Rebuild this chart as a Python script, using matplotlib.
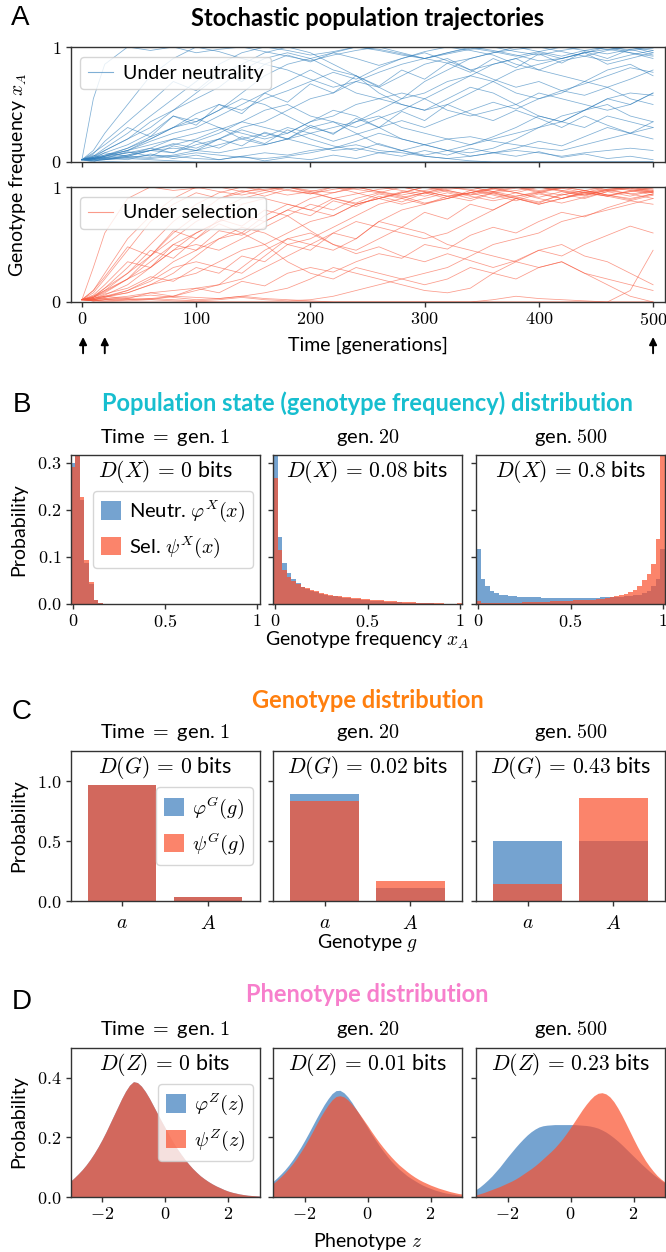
import matplotlib
matplotlib.use('Agg')
import matplotlib.pyplot as plt
from matplotlib.patches import Patch
from matplotlib.lines import Line2D

plt.rcParams['font.family'] = ['Lato', 'DejaVu Sans']
plt.rcParams['mathtext.fontset'] = 'cm'

# ---------------- data ----------------
# panel A: time points and trajectories of x_A
T = [0, 10, 20, 40, 60, 80, 100, 120, 140, 160, 180, 200, 220, 240, 260,
     280, 300, 320, 340, 360, 380, 400, 420, 440, 460, 480, 500]

neutral_runs = [
    [0.02, 0.55, 0.85, 1, 0.97, 1, 0.95, 0.98, 1, 0.96, 0.92, 0.88, 0.93, 0.97, 1, 0.95, 0.9, 0.94, 0.98, 1, 0.96, 0.93, 0.97, 1, 0.98, 0.95, 0.92],
    [0.02, 0.1, 0.25, 0.5, 0.75, 0.9, 1, 0.96, 0.9, 0.85, 0.8, 0.72, 0.65, 0.7, 0.78, 0.85, 0.9, 0.95, 1, 0.97, 0.93, 0.88, 0.9, 0.95, 0.98, 1, 0.97],
    [0.02, 0.05, 0.1, 0.2, 0.35, 0.45, 0.6, 0.75, 0.85, 0.95, 1, 0.95, 0.85, 0.75, 0.6, 0.5, 0.45, 0.55, 0.65, 0.6, 0.5, 0.4, 0.35, 0.45, 0.55, 0.6, 0.58],
    [0.02, 0.04, 0.08, 0.15, 0.25, 0.4, 0.35, 0.45, 0.55, 0.5, 0.4, 0.3, 0.25, 0.35, 0.45, 0.55, 0.7, 0.8, 0.9, 0.95, 1, 0.96, 0.92, 0.97, 1, 0.95, 0.9],
    [0.02, 0.03, 0.05, 0.12, 0.2, 0.3, 0.38, 0.3, 0.2, 0.15, 0.2, 0.3, 0.35, 0.25, 0.15, 0.1, 0.05, 0.03, 0.01, 0, 0, 0, 0, 0, 0, 0, 0],
    [0.02, 0.01, 0.02, 0.05, 0.1, 0.08, 0.15, 0.2, 0.3, 0.35, 0.45, 0.55, 0.6, 0.7, 0.65, 0.75, 0.85, 0.9, 0.8, 0.85, 0.9, 0.95, 0.9, 0.95, 0.85, 0.9, 0.95],
    [0.02, 0.03, 0.06, 0.1, 0.18, 0.25, 0.3, 0.4, 0.5, 0.6, 0.7, 0.8, 0.7, 0.6, 0.55, 0.5, 0.45, 0.5, 0.6, 0.7, 0.8, 0.85, 0.9, 0.95, 1, 0.97, 0.99],
    [0.02, 0.02, 0.04, 0.08, 0.12, 0.2, 0.25, 0.3, 0.25, 0.2, 0.25, 0.35, 0.4, 0.5, 0.55, 0.6, 0.55, 0.45, 0.4, 0.45, 0.5, 0.6, 0.55, 0.5, 0.45, 0.5, 0.6],
    [0.02, 0.01, 0.005, 0, 0, 0, 0, 0, 0, 0, 0, 0, 0, 0, 0, 0, 0, 0, 0, 0, 0, 0, 0, 0, 0, 0, 0],
    [0.02, 0.03, 0.05, 0.08, 0.1, 0.12, 0.1, 0.08, 0.12, 0.15, 0.2, 0.25, 0.3, 0.35, 0.4, 0.3, 0.25, 0.2, 0.15, 0.2, 0.25, 0.3, 0.35, 0.3, 0.4, 0.35, 0.3],
    [0.02, 0.02, 0.03, 0.05, 0.04, 0.06, 0.1, 0.15, 0.2, 0.25, 0.2, 0.15, 0.1, 0.12, 0.08, 0.1, 0.15, 0.2, 0.22, 0.18, 0.15, 0.12, 0.1, 0.15, 0.2, 0.25, 0.2],
    [0.02, 0.04, 0.1, 0.2, 0.3, 0.45, 0.55, 0.65, 0.8, 0.9, 0.95, 0.9, 0.8, 0.75, 0.65, 0.55, 0.6, 0.7, 0.75, 0.85, 0.9, 0.8, 0.75, 0.7, 0.8, 0.85, 0.75],
    [0.02, 0.02, 0.03, 0.04, 0.06, 0.05, 0.03, 0.02, 0.05, 0.08, 0.06, 0.1, 0.12, 0.15, 0.1, 0.08, 0.05, 0.03, 0.05, 0.08, 0.1, 0.08, 0.05, 0.08, 0.1, 0.12, 0.1],
    [0.02, 0.05, 0.12, 0.25, 0.4, 0.55, 0.7, 0.85, 0.95, 1, 0.97, 0.93, 0.96, 1, 0.98, 0.94, 0.9, 0.95, 0.99, 0.96, 0.92, 0.96, 1, 0.97, 0.94, 0.98, 1],
    [0.02, 0.03, 0.05, 0.1, 0.15, 0.2, 0.18, 0.25, 0.35, 0.45, 0.5, 0.4, 0.35, 0.3, 0.38, 0.45, 0.55, 0.65, 0.75, 0.7, 0.6, 0.55, 0.6, 0.7, 0.65, 0.55, 0.5],
    [0.02, 0.01, 0.02, 0.03, 0.02, 0.01, 0, 0, 0, 0, 0, 0, 0, 0, 0, 0, 0, 0, 0, 0, 0, 0, 0, 0, 0, 0, 0],
    [0.02, 0.03, 0.04, 0.06, 0.1, 0.15, 0.2, 0.28, 0.35, 0.3, 0.25, 0.35, 0.45, 0.4, 0.3, 0.2, 0.15, 0.1, 0.08, 0.12, 0.2, 0.3, 0.4, 0.45, 0.5, 0.4, 0.35],
    [0.02, 0.02, 0.05, 0.1, 0.2, 0.3, 0.35, 0.45, 0.6, 0.75, 0.85, 0.9, 0.95, 1, 0.97, 0.93, 0.9, 0.86, 0.9, 0.95, 0.98, 1, 0.96, 0.92, 0.88, 0.93, 0.97],
    [0.02, 0.03, 0.02, 0.04, 0.03, 0.05, 0.08, 0.06, 0.04, 0.03, 0.05, 0.08, 0.12, 0.18, 0.25, 0.2, 0.15, 0.1, 0.15, 0.22, 0.3, 0.4, 0.35, 0.45, 0.55, 0.5, 0.6],
    [0.02, 0.04, 0.06, 0.12, 0.22, 0.3, 0.42, 0.5, 0.45, 0.55, 0.62, 0.7, 0.78, 0.72, 0.82, 0.9, 0.96, 1, 0.97, 0.93, 0.85, 0.8, 0.88, 0.92, 0.97, 1, 0.95],
    [0.02, 0.06, 0.03, 0.09, 0.05, 0.14, 0.1, 0.2, 0.14, 0.26, 0.2, 0.32, 0.24, 0.38, 0.3, 0.44, 0.36, 0.5, 0.42, 0.36, 0.45, 0.38, 0.3, 0.4, 0.32, 0.25, 0.3],
    [0.02, 0.0, 0.04, 0.02, 0.07, 0.03, 0.06, 0.02, 0.05, 0.01, 0.04, 0.02, 0.06, 0.03, 0.08, 0.05, 0.1, 0.06, 0.12, 0.08, 0.05, 0.09, 0.04, 0.07, 0.03, 0.05, 0.02],
    [0.02, 0.08, 0.15, 0.3, 0.22, 0.4, 0.32, 0.5, 0.42, 0.6, 0.52, 0.68, 0.6, 0.75, 0.66, 0.8, 0.72, 0.86, 0.78, 0.9, 0.82, 0.94, 0.86, 0.96, 0.9, 0.98, 0.93],
    [0.02, 0.04, 0.02, 0.06, 0.12, 0.08, 0.18, 0.12, 0.22, 0.16, 0.28, 0.2, 0.14, 0.1, 0.16, 0.1, 0.06, 0.1, 0.05, 0.08, 0.12, 0.18, 0.14, 0.22, 0.3, 0.25, 0.35],
    [0.02, 0.07, 0.18, 0.35, 0.52, 0.7, 0.62, 0.78, 0.7, 0.85, 0.93, 0.87, 0.95, 0.9, 0.84, 0.9, 0.95, 0.88, 0.8, 0.72, 0.65, 0.7, 0.62, 0.68, 0.75, 0.82, 0.78],
    [0.02, 0.03, 0.08, 0.05, 0.1, 0.16, 0.12, 0.2, 0.28, 0.22, 0.3, 0.25, 0.18, 0.24, 0.3, 0.36, 0.3, 0.38, 0.45, 0.52, 0.46, 0.55, 0.62, 0.58, 0.65, 0.72, 0.8],
]

selection_runs = [
    [0.02, 0.3, 0.6, 0.9, 1, 0.97, 0.99, 1, 0.96, 0.98, 1, 0.97, 0.95, 0.99, 1, 0.97, 0.94, 0.98, 1, 0.96, 0.99, 1, 0.97, 0.95, 0.98, 1, 0.97],
    [0.02, 0.1, 0.25, 0.55, 0.75, 0.9, 1, 0.96, 0.93, 0.97, 1, 0.95, 0.9, 0.94, 0.98, 1, 0.96, 0.92, 0.95, 0.99, 1, 0.96, 0.93, 0.97, 1, 0.98, 0.95],
    [0.02, 0.05, 0.1, 0.25, 0.4, 0.55, 0.7, 0.8, 0.9, 0.95, 1, 0.96, 0.9, 0.85, 0.9, 0.95, 1, 0.97, 0.93, 0.96, 1, 0.97, 0.99, 0.95, 0.92, 0.96, 1],
    [0.02, 0.04, 0.08, 0.2, 0.35, 0.5, 0.6, 0.7, 0.75, 0.7, 0.8, 0.9, 0.95, 1, 0.96, 0.92, 0.86, 0.9, 0.95, 0.98, 1, 0.95, 0.9, 0.94, 0.98, 1, 0.96],
    [0.02, 0.02, 0.04, 0.1, 0.2, 0.35, 0.45, 0.55, 0.65, 0.6, 0.5, 0.55, 0.65, 0.75, 0.85, 0.9, 0.95, 1, 0.97, 0.94, 0.9, 0.85, 0.9, 0.95, 0.92, 0.88, 0.93],
    [0.02, 0.01, 0.02, 0.03, 0.02, 0.05, 0.1, 0.15, 0.3, 0.45, 0.55, 0.5, 0.45, 0.55, 0.7, 0.8, 0.85, 0.9, 0.95, 0.9, 0.95, 1, 0.97, 0.93, 0.97, 1, 0.98],
    [0.02, 0.03, 0.05, 0.08, 0.15, 0.25, 0.4, 0.55, 0.6, 0.5, 0.35, 0.25, 0.2, 0.3, 0.25, 0.2, 0.15, 0.2, 0.3, 0.25, 0.2, 0.3, 0.35, 0.25, 0.2, 0.15, 0.1],
    [0.02, 0.02, 0.03, 0.02, 0.03, 0.05, 0.04, 0.03, 0.05, 0.08, 0.12, 0.2, 0.3, 0.25, 0.2, 0.15, 0.1, 0.08, 0.12, 0.25, 0.35, 0.45, 0.5, 0.4, 0.35, 0.25, 0.15],
    [0.02, 0.01, 0.005, 0, 0, 0, 0, 0, 0, 0, 0, 0, 0, 0, 0, 0, 0, 0, 0, 0, 0, 0, 0, 0, 0, 0, 0],
    [0.02, 0.01, 0.02, 0.01, 0.02, 0.01, 0.005, 0, 0, 0, 0, 0, 0, 0, 0, 0, 0, 0, 0, 0, 0, 0, 0, 0, 0, 0, 0],
    [0.02, 0.05, 0.12, 0.3, 0.5, 0.7, 0.85, 0.95, 1, 0.97, 0.93, 0.96, 1, 0.98, 0.95, 0.91, 0.95, 0.99, 1, 0.96, 0.92, 0.95, 0.99, 1, 0.97, 0.94, 0.96],
    [0.02, 0.04, 0.1, 0.2, 0.3, 0.45, 0.6, 0.7, 0.85, 0.9, 0.85, 0.8, 0.75, 0.85, 0.9, 0.95, 1, 0.96, 0.92, 0.88, 0.92, 0.96, 1, 0.97, 0.93, 0.9, 0.94],
    [0.02, 0.02, 0.03, 0.05, 0.08, 0.1, 0.12, 0.15, 0.2, 0.3, 0.4, 0.5, 0.6, 0.7, 0.65, 0.6, 0.55, 0.6, 0.7, 0.8, 0.9, 0.85, 0.9, 0.95, 1, 0.97, 0.95],
    [0.02, 0.03, 0.06, 0.15, 0.3, 0.45, 0.5, 0.45, 0.55, 0.65, 0.75, 0.85, 0.8, 0.9, 0.95, 1, 0.96, 0.92, 0.95, 0.99, 0.95, 0.9, 0.86, 0.91, 0.96, 0.99, 0.95],
    [0.02, 0.01, 0.01, 0.02, 0.03, 0.02, 0.01, 0.02, 0.04, 0.02, 0.01, 0.02, 0.05, 0.1, 0.15, 0.2, 0.25, 0.3, 0.4, 0.5, 0.55, 0.6, 0.7, 0.75, 0.8, 0.85, 0.9],
    [0.02, 0.02, 0.04, 0.08, 0.15, 0.2, 0.25, 0.35, 0.45, 0.5, 0.6, 0.7, 0.75, 0.85, 0.9, 0.85, 0.9, 0.95, 0.9, 0.95, 0.9, 0.95, 1, 0.97, 0.93, 0.96, 0.99],
    [0.02, 0.03, 0.05, 0.1, 0.18, 0.3, 0.35, 0.3, 0.25, 0.4, 0.55, 0.6, 0.5, 0.45, 0.55, 0.65, 0.6, 0.5, 0.45, 0.4, 0.35, 0.3, 0.35, 0.25, 0.15, 0.05, 0],
    [0.02, 0.04, 0.09, 0.2, 0.4, 0.6, 0.75, 0.9, 0.95, 1, 0.97, 0.94, 0.98, 1, 0.96, 0.93, 0.97, 1, 0.98, 0.95, 0.97, 1, 0.96, 0.93, 0.97, 0.99, 0.96],
    [0.02, 0.01, 0.02, 0.04, 0.06, 0.04, 0.02, 0.03, 0.05, 0.03, 0.02, 0.01, 0, 0, 0, 0, 0, 0, 0, 0.02, 0.05, 0.03, 0.02, 0.01, 0, 0.1, 0.45],
    [0.02, 0.08, 0.2, 0.45, 0.7, 0.85, 0.95, 0.9, 0.97, 0.92, 0.98, 0.94, 1, 0.95, 0.9, 0.96, 0.92, 0.97, 0.93, 0.99, 0.95, 0.91, 0.96, 0.92, 0.98, 0.94, 0.9],
    [0.02, 0.03, 0.07, 0.12, 0.22, 0.18, 0.3, 0.25, 0.4, 0.35, 0.5, 0.45, 0.6, 0.55, 0.7, 0.65, 0.78, 0.72, 0.85, 0.8, 0.9, 0.86, 0.94, 0.9, 0.96, 0.92, 0.97],
    [0.02, 0.06, 0.15, 0.35, 0.3, 0.5, 0.45, 0.62, 0.58, 0.7, 0.8, 0.75, 0.88, 0.83, 0.92, 0.87, 0.95, 0.9, 0.97, 0.93, 0.88, 0.94, 0.9, 0.96, 0.92, 0.97, 0.93],
    [0.02, 0.02, 0.05, 0.03, 0.08, 0.05, 0.12, 0.08, 0.18, 0.14, 0.25, 0.3, 0.26, 0.35, 0.42, 0.38, 0.5, 0.46, 0.58, 0.65, 0.6, 0.7, 0.78, 0.74, 0.82, 0.88, 0.85],
    [0.02, 0.1, 0.22, 0.48, 0.4, 0.62, 0.55, 0.72, 0.66, 0.8, 0.75, 0.62, 0.5, 0.42, 0.48, 0.4, 0.35, 0.42, 0.36, 0.3, 0.36, 0.45, 0.4, 0.5, 0.58, 0.66, 0.6],
    [0.02, 0.04, 0.12, 0.25, 0.45, 0.38, 0.55, 0.68, 0.6, 0.75, 0.85, 0.8, 0.9, 0.86, 0.94, 0.9, 0.85, 0.92, 0.88, 0.95, 0.91, 0.87, 0.93, 0.97, 0.93, 0.89, 0.94],
]
arrow_times = [1, 20, 500]

# panel B: histogram of x_A, 41 bins centred on k/40
bin_centres = [k / 40 for k in range(41)]
bin_width = 0.025
neutral_hist = [
    [0.298, 0.34, 0.22, 0.088, 0.043, 0.008, 0.003, 0.001, 0.0005, 0, 0, 0, 0, 0, 0, 0, 0, 0, 0, 0, 0,
     0, 0, 0, 0, 0, 0, 0, 0, 0, 0, 0, 0, 0, 0, 0, 0, 0, 0, 0, 0],
    [0.34, 0.142, 0.087, 0.065, 0.053, 0.044, 0.037, 0.032, 0.028, 0.025, 0.022, 0.02, 0.018, 0.016,
     0.0145, 0.013, 0.012, 0.011, 0.01, 0.009, 0.008, 0.0072, 0.0065, 0.0058, 0.0052, 0.0046, 0.004,
     0.0035, 0.003, 0.0026, 0.0022, 0.0019, 0.0016, 0.0013, 0.0011, 0.0009, 0.0007, 0.0005, 0.0004,
     0.0003, 0.0008],
    [0.116, 0.054, 0.038, 0.027, 0.023, 0.02, 0.0185, 0.017, 0.016, 0.0155, 0.015, 0.0145, 0.014,
     0.0138, 0.0135, 0.0132, 0.013, 0.0128, 0.0126, 0.0125, 0.0125, 0.0125, 0.0126, 0.0128, 0.013,
     0.0132, 0.0135, 0.0138, 0.014, 0.0145, 0.015, 0.0155, 0.016, 0.017, 0.0185, 0.02, 0.023, 0.027,
     0.038, 0.054, 0.116],
]
selection_hist = [
    [0.29, 0.34, 0.227, 0.093, 0.046, 0.008, 0.003, 0.001, 0.0005, 0, 0, 0, 0, 0, 0, 0, 0, 0, 0, 0, 0,
     0, 0, 0, 0, 0, 0, 0, 0, 0, 0, 0, 0, 0, 0, 0, 0, 0, 0, 0, 0],
    [0.267, 0.115, 0.073, 0.058, 0.049, 0.043, 0.037, 0.033, 0.03, 0.027, 0.024, 0.022, 0.02, 0.018,
     0.0165, 0.015, 0.014, 0.013, 0.012, 0.011, 0.01, 0.0092, 0.0084, 0.0076, 0.0069, 0.0062, 0.0055,
     0.0049, 0.0043, 0.0038, 0.0033, 0.0029, 0.0025, 0.0021, 0.0018, 0.0015, 0.0012, 0.001, 0.0008,
     0.0006, 0.0015],
    [0.006, 0.003, 0.002, 0.002, 0.002, 0.0022, 0.0024, 0.0026, 0.0028, 0.003, 0.0033, 0.0036, 0.004,
     0.0043, 0.0046, 0.005, 0.0054, 0.0058, 0.0062, 0.0066, 0.007, 0.0075, 0.008, 0.0085, 0.009,
     0.0095, 0.01, 0.011, 0.013, 0.014, 0.016, 0.0186, 0.021, 0.025, 0.03, 0.039, 0.05, 0.063, 0.084,
     0.137, 0.36],
]

# panel C: genotype probabilities (a, A)
genotypes = ['$a$', '$A$']
neutral_geno = [[0.97, 0.03], [0.89, 0.11], [0.50, 0.50]]
selection_geno = [[0.97, 0.03], [0.83, 0.17], [0.14, 0.86]]

# panel D: phenotype densities on a grid -3..3 step 0.125
z = [-3 + k / 8 for k in range(49)]
neutral_pheno = [
    [0.053, 0.065, 0.078, 0.092, 0.108, 0.126, 0.146, 0.168, 0.192, 0.218, 0.246, 0.274, 0.302,
     0.330, 0.355, 0.375, 0.387, 0.384, 0.372, 0.354, 0.332, 0.307, 0.282, 0.257, 0.233,
     0.208, 0.185, 0.164, 0.145, 0.127, 0.111, 0.096, 0.083, 0.071, 0.061, 0.052, 0.044,
     0.037, 0.031, 0.025, 0.020, 0.016, 0.013, 0.010, 0.008, 0.006, 0.005, 0.004, 0.003],
    [0.052, 0.064, 0.077, 0.091, 0.107, 0.125, 0.145, 0.166, 0.189, 0.213, 0.238, 0.263, 0.287,
     0.310, 0.330, 0.347, 0.357, 0.358, 0.350, 0.336, 0.318, 0.297, 0.276, 0.255, 0.234,
     0.212, 0.192, 0.172, 0.154, 0.137, 0.121, 0.107, 0.094, 0.083, 0.072, 0.063, 0.055,
     0.047, 0.040, 0.034, 0.029, 0.024, 0.020, 0.016, 0.013, 0.011, 0.009, 0.007, 0.005],
    [0.025, 0.034, 0.045, 0.057, 0.070, 0.085, 0.100, 0.117, 0.134, 0.150, 0.166, 0.181, 0.195,
     0.208, 0.219, 0.228, 0.235, 0.239, 0.241, 0.242, 0.243, 0.243, 0.243, 0.243, 0.243,
     0.243, 0.242, 0.241, 0.240, 0.238, 0.235, 0.231, 0.225, 0.218, 0.209, 0.199, 0.188,
     0.176, 0.163, 0.150, 0.137, 0.124, 0.111, 0.099, 0.087, 0.076, 0.066, 0.056, 0.047],
]
selection_pheno = [
    [0.053, 0.065, 0.078, 0.092, 0.108, 0.126, 0.146, 0.168, 0.192, 0.218, 0.246, 0.274, 0.302,
     0.330, 0.355, 0.375, 0.387, 0.384, 0.372, 0.354, 0.332, 0.307, 0.282, 0.257, 0.233,
     0.208, 0.185, 0.164, 0.145, 0.127, 0.111, 0.096, 0.083, 0.071, 0.061, 0.052, 0.044,
     0.037, 0.031, 0.025, 0.020, 0.016, 0.013, 0.010, 0.008, 0.006, 0.005, 0.004, 0.003],
    [0.045, 0.056, 0.068, 0.081, 0.096, 0.112, 0.130, 0.150, 0.171, 0.194, 0.218, 0.243, 0.267,
     0.289, 0.309, 0.326, 0.337, 0.340, 0.336, 0.326, 0.312, 0.296, 0.278, 0.259, 0.240,
     0.220, 0.201, 0.183, 0.166, 0.150, 0.135, 0.121, 0.108, 0.097, 0.086, 0.076, 0.067,
     0.059, 0.052, 0.046, 0.040, 0.035, 0.030, 0.026, 0.022, 0.018, 0.015, 0.012, 0.010],
    [0.007, 0.011, 0.015, 0.020, 0.025, 0.030, 0.035, 0.041, 0.047, 0.053, 0.060, 0.068, 0.077,
     0.086, 0.095, 0.105, 0.116, 0.128, 0.140, 0.152, 0.165, 0.180, 0.196, 0.214, 0.233,
     0.253, 0.273, 0.293, 0.311, 0.327, 0.340, 0.348, 0.350, 0.346, 0.336, 0.320, 0.299,
     0.275, 0.249, 0.222, 0.195, 0.169, 0.145, 0.123, 0.104, 0.087, 0.072, 0.060, 0.050],
]

time_titles = ['Time $=$ gen. $1$', 'gen. $20$', 'gen. $500$']
dx_text = [r'$D(X)\,=\,0$ bits', r'$D(X)\,=\,0.08$ bits', r'$D(X)\,=\,0.8$ bits']
dg_text = [r'$D(G)\,=\,0$ bits', r'$D(G)\,=\,0.02$ bits', r'$D(G)\,=\,0.43$ bits']
dz_text = [r'$D(Z)\,=\,0$ bits', r'$D(Z)\,=\,0.01$ bits', r'$D(Z)\,=\,0.23$ bits']

# ---------------- styling ----------------
W, H = 666, 1252
LINE_BLUE = '#2a7ab9'
LINE_RED = '#f8573c'
BLUE = '#2c72b8'
RED = '#fa502d'
A_BLUE, A_RED = 0.65, 0.7
FS = 14
TITLE_FS = 17
TICK_FS = 13


def rect(x0, y0, x1, y1):
    return [x0 / W, 1 - y1 / H, (x1 - x0) / W, (y1 - y0) / H]


def fy(y):
    return 1 - y / H


def style(ax):
    for s in ax.spines.values():
        s.set_color('#333333')
        s.set_linewidth(1.0)
    ax.tick_params(direction='out', length=3.5, width=1.0, labelsize=TICK_FS,
                   color='#333333', pad=3)


def mlabels(vals, fmt):
    return ['$' + fmt.format(v) + '$' for v in vals]


fig = plt.figure(figsize=(W / 100, H / 100), dpi=100)

# ---------------- panel A ----------------
axA1 = fig.add_axes(rect(70.5, 47, 664.5, 162))
axA2 = fig.add_axes(rect(70.5, 187, 664.5, 302))
for ax, runs, col, lab in [(axA1, neutral_runs, LINE_BLUE, 'Under neutrality'),
                           (axA2, selection_runs, LINE_RED, 'Under selection')]:
    for r in runs:
        ax.plot(T, r, color=col, lw=0.55, alpha=0.6)
    ax.set_xlim(-10, 510)
    ax.set_ylim(0, 1)
    ax.set_yticks([0, 1], ['$0$', '$1$'])
    ax.set_xticks([0, 100, 200, 300, 400, 500])
    style(ax)
    ax.legend([Line2D([], [], color=col, lw=0.8, alpha=0.6)], [lab], loc='upper left',
              fontsize=FS, handlelength=1.3, handletextpad=0.5, borderaxespad=0.5)
axA1.set_xticklabels([])
axA2.set_xticklabels(mlabels([0, 100, 200, 300, 400, 500], '{}'))
for t in arrow_times:
    axA2.annotate('', xy=(t, -0.28), xytext=(t, -0.47),
                  xycoords=('data', 'axes fraction'), textcoords=('data', 'axes fraction'),
                  arrowprops=dict(arrowstyle='-|>', color='k', lw=1.4, mutation_scale=11),
                  annotation_clip=False)

fig.text(20 / W, fy(18), 'A', fontsize=20, family='Liberation Sans', ha='center', va='center')
fig.text(367.5 / W, fy(18), 'Stochastic population trajectories', fontsize=TITLE_FS,
         weight='bold', ha='center', va='center')
fig.text(18 / W, fy(175), 'Genotype frequency $x_A$', rotation=90, fontsize=FS,
         ha='center', va='center')
fig.text(367.5 / W, fy(345), 'Time [generations]', fontsize=FS, ha='center', va='center')

# ---------------- panels B, C, D ----------------
cols = [(70.5, 259.5), (273, 462), (476, 665)]


def make_row(y0, y1):
    return [fig.add_axes(rect(x0, y0, x1, y1)) for x0, x1 in cols]


def row_text(axes, ytitle, texts):
    for ax, tt, dt in zip(axes, time_titles, texts):
        ax.text(0.5, 1 + ytitle / 149, tt, transform=ax.transAxes, ha='center',
                va='center', fontsize=FS + 0.5)
        ax.text(0.5, 0.89, dt, transform=ax.transAxes, ha='center', va='center', fontsize=15.5)


def patch_legend(ax, labels):
    ax.legend([Patch(color=BLUE, alpha=A_BLUE, lw=0), Patch(color=RED, alpha=A_RED, lw=0)],
              labels, loc='center right', fontsize=FS + 0.5, handlelength=1.0,
              handleheight=1.0, handletextpad=0.4, borderaxespad=0.3)


# B
axB = make_row(455, 604)
for i, ax in enumerate(axB):
    ax.bar(bin_centres, neutral_hist[i], width=bin_width, color=BLUE, alpha=A_BLUE, lw=0)
    ax.bar(bin_centres, selection_hist[i], width=bin_width, color=RED, alpha=A_RED, lw=0)
    ax.set_xlim(-0.0125, 1.0125)
    ax.set_ylim(0, 0.316)
    ax.set_xticks([0, 0.5, 1], ['$0$', '$0.5$', '$1$'])
    ax.set_yticks([0, 0.1, 0.2, 0.3], mlabels([0, 0.1, 0.2, 0.3], '{:.1f}') if i == 0 else [])
    style(ax)
row_text(axB, 18, dx_text)
patch_legend(axB[0], [r'Neutr. $\varphi^X(x)$', r'Sel. $\psi^X(x)$'])
fig.text(22 / W, fy(405), 'B', fontsize=20, family='Liberation Sans', ha='center', va='center')
fig.text(367.5 / W, fy(403), 'Population state (genotype frequency) distribution',
         fontsize=TITLE_FS, weight='bold', color='#17becf', ha='center', va='center')
fig.text(19 / W, fy(530), 'Probability', rotation=90, fontsize=FS, ha='center', va='center')
fig.text(367.5 / W, fy(640), 'Genotype frequency $x_A$', fontsize=FS, ha='center', va='center')

# C
axC = make_row(751, 901)
for i, ax in enumerate(axC):
    ax.bar([0, 1], neutral_geno[i], width=0.8, color=BLUE, alpha=A_BLUE, lw=0)
    ax.bar([0, 1], selection_geno[i], width=0.8, color=RED, alpha=A_RED, lw=0)
    ax.set_xlim(-0.6, 1.6)
    ax.set_ylim(0, 1.25)
    ax.set_xticks([0, 1], genotypes)
    ax.set_yticks([0, 0.5, 1.0], mlabels([0, 0.5, 1.0], '{:.1f}') if i == 0 else [])
    style(ax)
    ax.tick_params(axis='x', labelsize=TICK_FS + 1, pad=6)
row_text(axC, 18, dg_text)
patch_legend(axC[0], [r'$\varphi^G(g)$', r'$\psi^G(g)$'])
fig.text(22 / W, fy(712), 'C', fontsize=20, family='Liberation Sans', ha='center', va='center')
fig.text(367.5 / W, fy(700), 'Genotype distribution', fontsize=TITLE_FS, weight='bold',
         color='#ff7f0e', ha='center', va='center')
fig.text(19 / W, fy(826), 'Probability', rotation=90, fontsize=FS, ha='center', va='center')
fig.text(367.5 / W, fy(943), 'Genotype $g$', fontsize=FS, ha='center', va='center')

# D
axD = make_row(1048, 1197)
for i, ax in enumerate(axD):
    ax.fill_between(z, neutral_pheno[i], color=BLUE, alpha=A_BLUE, lw=0)
    ax.fill_between(z, selection_pheno[i], color=RED, alpha=A_RED, lw=0)
    ax.set_xlim(-3, 3)
    ax.set_ylim(0, 0.5)
    ax.set_xticks([-2, 0, 2], ['$-2$', '$0$', '$2$'])
    ax.set_yticks([0, 0.2, 0.4], mlabels([0, 0.2, 0.4], '{:.1f}') if i == 0 else [])
    style(ax)
row_text(axD, 18, dz_text)
patch_legend(axD[0], [r'$\varphi^Z(z)$', r'$\psi^Z(z)$'])
fig.text(22 / W, fy(1002), 'D', fontsize=20, family='Liberation Sans', ha='center', va='center')
fig.text(367.5 / W, fy(995), 'Phenotype distribution', fontsize=TITLE_FS, weight='bold',
         color='#f77fcc', ha='center', va='center')
fig.text(19 / W, fy(1122), 'Probability', rotation=90, fontsize=FS, ha='center', va='center')
fig.text(367.5 / W, fy(1242), 'Phenotype $z$', fontsize=FS, ha='center', va='center')

fig.savefig('out.png', dpi=100)
